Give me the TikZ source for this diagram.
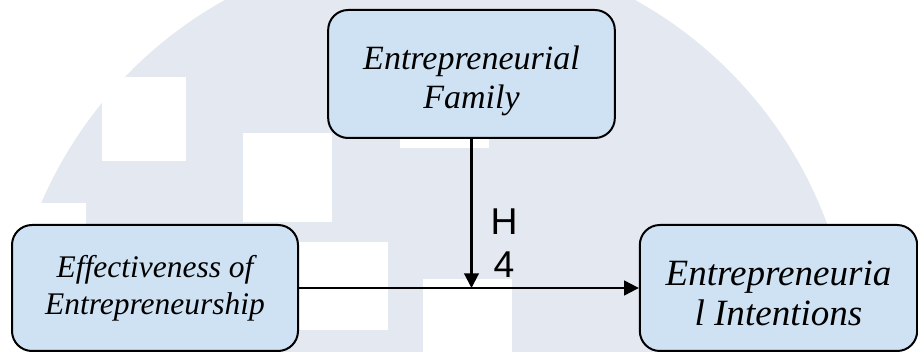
\documentclass[tikz,border=0pt]{standalone}
\usepackage{fontspec}
\setmainfont{Liberation Serif}
\newfontfamily\labelfont{Liberation Sans}
\usetikzlibrary{arrows.meta}
\definecolor{boxblue}{RGB}{207,226,243}
\definecolor{markgray}{RGB}{228,232,240}
\tikzset{
  varbox/.style={draw, line width=1.5pt, fill=boxblue, rounded corners=15pt,
    align=center, inner sep=0pt},
  link/.style={line width=1.6pt, -{Triangle[length=11pt,width=11pt]}}
}

\begin{document}
\begin{tikzpicture}[x=0.75pt, y=-0.75pt]
        \useasboundingbox (0,0) rectangle (918,352);
        % watermark in the background
        \begin{scope}
            \clip (0,0) rectangle (918,352);
            \fill[markgray] (430,370) circle (423);
            \fill[white] (102,77) rectangle (186,161);
            \fill[white] (243,133) rectangle (332,222);
            \fill[white] (400,120) rectangle (489,148);
            \fill[white] (290,242) rectangle (388,330);
            \fill[white] (423,279) rectangle (512,352);
            \fill[white] (0,203) rectangle (86,352);
        \end{scope}
        % variables
        \node[varbox, minimum width=215pt, minimum height=96pt, text height=57pt,
            font=\rmfamily\itshape\fontsize{25.5pt}{29pt}\selectfont]
            (fam) at (471.5,74) {Entrepreneurial\\Family};
        \node[varbox, minimum width=214.5pt, minimum height=94.5pt,
            font=\rmfamily\itshape\fontsize{23.6pt}{27.8pt}\selectfont]
            (eff) at (155,288) {Effectiveness of\\Entrepreneurship};
        \node[varbox, minimum width=208pt, minimum height=94.5pt, text height=57pt,
            font=\rmfamily\itshape\fontsize{27.8pt}{30pt}\selectfont]
            (int) at (778.5,288) {Entrepreneuria\\l Intentions};
        \coordinate (meet) at (fam.south |- int.west);
        % paths
        \draw[link] (eff.east) -- (int.west);
        \draw[link] (fam.south) -- (meet);
        \node[font=\labelfont\fontsize{28pt}{32pt}\selectfont, align=center]
            (h4) at (504,243) {H\\4};
    \end{tikzpicture}
\end{document}
